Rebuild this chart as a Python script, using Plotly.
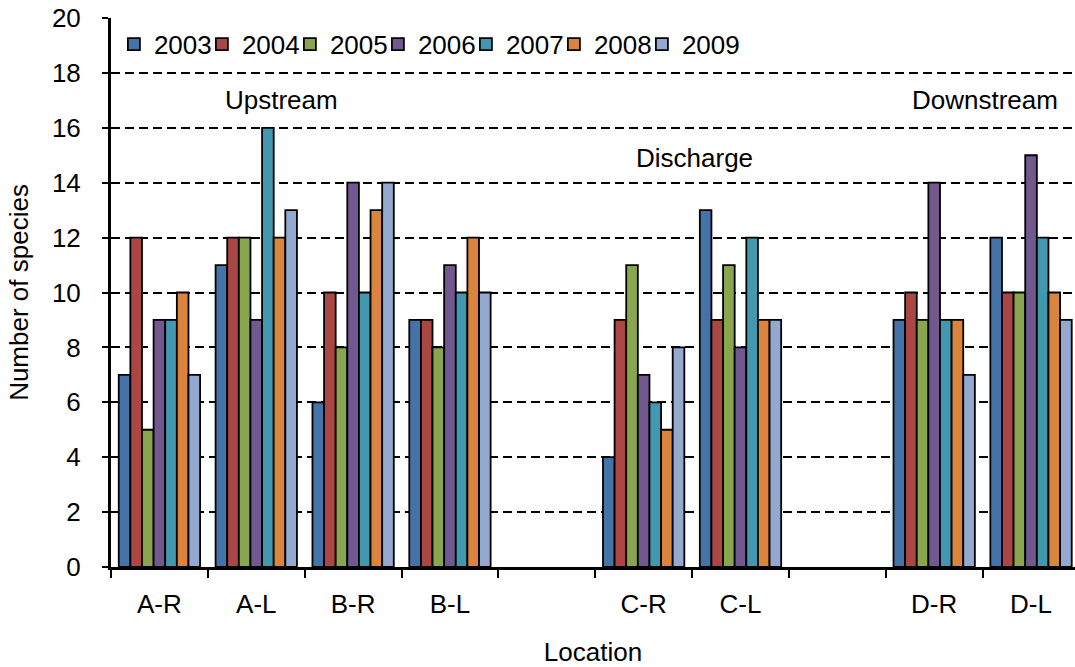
import plotly.graph_objects as go

locations = ["A-R", "A-L", "B-R", "B-L", " ", "C-R", "C-L", "  ", "D-R", "D-L"]
years = ["2003", "2004", "2005", "2006", "2007", "2008", "2009"]
colors = ["#4572A7", "#AA4643", "#89A54E", "#71588F", "#4198AF", "#DB843D", "#93A9CF"]

s2003 = [7, 11, 6, 9, None, 4, 13, None, 9, 12]
s2004 = [12, 12, 10, 9, None, 9, 9, None, 10, 10]
s2005 = [5, 12, 8, 8, None, 11, 11, None, 9, 10]
s2006 = [9, 9, 14, 11, None, 7, 8, None, 14, 15]
s2007 = [9, 16, 10, 10, None, 6, 12, None, 9, 12]
s2008 = [10, 12, 13, 12, None, 5, 9, None, 9, 10]
s2009 = [7, 13, 14, 10, None, 8, 9, None, 7, 9]
series = [s2003, s2004, s2005, s2006, s2007, s2008, s2009]

zone_labels = ["Upstream", "Discharge", "Downstream"]

FONT = "Liberation Sans, Arial, sans-serif"
FS = 26
XRANGE = [-0.5, 9.454]
YRANGE = [0, 20]

fig = go.Figure()
for name, vals, col in zip(years, series, colors):
    fig.add_trace(go.Bar(
        x=locations, y=vals, name=name,
        marker=dict(color=col, line=dict(color="black", width=1.8)),
    ))

# invisible spacer entry so the last legend label is not clipped
fig.add_trace(go.Scatter(
    x=[None], y=[None], mode="markers", name=" ",
    marker=dict(size=0.1, color="rgba(0,0,0,0)", line=dict(width=0)),
    hoverinfo="skip",
))

fig.update_layout(
    width=1075, height=667,
    margin=dict(l=111, r=0, t=18, b=100),
    paper_bgcolor="white", plot_bgcolor="white",
    barmode="group", bargap=0.16, bargroupgap=0,
    font=dict(family=FONT, size=FS, color="black"),
    showlegend=True,
    legend=dict(
        orientation="h", x=0.003, y=0.995, xanchor="left", yanchor="top",
        font=dict(size=FS), bgcolor="rgba(0,0,0,0)",
        itemwidth=30, entrywidth=43, entrywidthmode="pixels",
    ),
    xaxis=dict(
        type="category", categoryorder="array", categoryarray=locations,
        range=XRANGE,
        showline=True, linecolor="black", linewidth=3,
        ticks="outside", tickson="boundaries", ticklen=8, tickwidth=2, tickcolor="black",
        showgrid=False,
        ticklabelstandoff=12,
        title=dict(text="Location", font=dict(size=FS), standoff=26),
        tickfont=dict(size=FS),
    ),
    yaxis=dict(
        range=YRANGE, dtick=2, tick0=0,
        showline=True, linecolor="black", linewidth=3,
        ticks="outside", ticklen=6, tickwidth=2, tickcolor="black",
        showgrid=True, gridcolor="black", gridwidth=2, griddash="9px,5px",
        zeroline=False,
        ticklabelstandoff=16,
        title=dict(text="Number of species", font=dict(size=FS), standoff=16),
        tickfont=dict(size=FS),
    ),
    # overlay axes supplying the inner half of the crossing tick marks
    xaxis2=dict(
        overlaying="x", anchor="y", side="bottom", range=XRANGE,
        tick0=-0.5, dtick=1, ticks="inside", ticklen=6, tickwidth=2, tickcolor="black",
        showticklabels=False, showgrid=False, showline=False, zeroline=False,
    ),
    yaxis2=dict(
        overlaying="y", anchor="x", side="left", range=YRANGE,
        tick0=0, dtick=2, ticks="inside", ticklen=6, tickwidth=2, tickcolor="black",
        showticklabels=False, showgrid=False, showline=False, zeroline=False,
    ),
)

zone_x = [0.177, 0.605, 0.907]
zone_y = [17.0, 14.9, 17.0]
for lab, xx, yy in zip(zone_labels, zone_x, zone_y):
    fig.add_annotation(text=lab, x=xx, xref="paper", xanchor="center",
                       y=yy, yref="y", yanchor="middle",
                       showarrow=False, font=dict(size=FS, color="black"))

fig.write_html("out.html")
